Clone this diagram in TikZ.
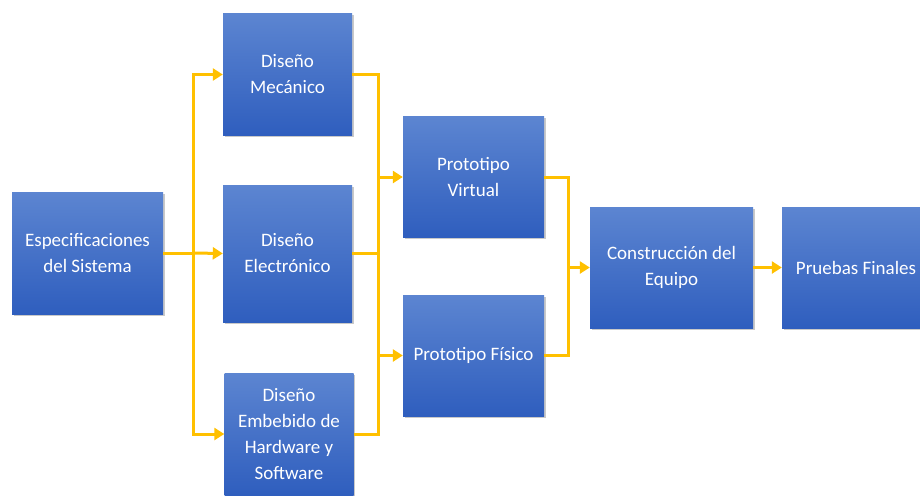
\documentclass[tikz,border=0pt]{standalone}
\usepackage{fontspec}
\setmainfont{Carlito}
\usetikzlibrary{arrows.meta,shadows}
\definecolor{boxtop}{HTML}{5C85D1}
\definecolor{boxbot}{HTML}{2F5EBE}
\definecolor{conncol}{HTML}{FFC000}
\tikzset{
  blockbox/.style={rectangle, inner sep=0pt, top color=boxtop, bottom color=boxbot,
    draw=none, text=white, align=center, font=\fontsize{19}{26}\selectfont,
    drop shadow={shadow xshift=1.5pt, shadow yshift=-1.5pt, opacity=0.35, fill=black!60}},
  conn/.style={draw=conncol, line width=3pt},
  connarrow/.style={conn, -{Triangle[length=10pt,width=12pt]}}
}
\begin{document}
\begin{tikzpicture}[x=1pt,y=-1pt]
\useasboundingbox (0,0) rectangle (920,495);
\fill[white] (0,0) rectangle (920,495);
\node[blockbox, minimum width=151pt, minimum height=122pt] (esp) at (87.5,253) {Especificaciones\\del Sistema};
\node[blockbox, minimum width=129pt, minimum height=122pt] (mec) at (287.5,74.5) {Diseño\\Mecánico};
\node[blockbox, minimum width=129pt, minimum height=137pt] (ele) at (287.5,253.5) {Diseño\\Electrónico};
\node[blockbox, minimum width=129pt, minimum height=122pt] (emb) at (289,434) {Diseño\\Embebido de\\Hardware y\\Software};
\node[blockbox, minimum width=141pt, minimum height=121pt] (vir) at (473.5,177) {Prototipo\\Virtual};
\node[blockbox, minimum width=141pt, minimum height=121pt] (fis) at (473.5,355.5) {Prototipo Físico};
\node[blockbox, minimum width=163pt, minimum height=121pt] (con) at (671.5,267.5) {Construcción del\\Equipo};
\node[blockbox, minimum width=148pt, minimum height=121pt] (pru) at (856,267.5) {Pruebas Finales};
\coordinate (j1) at (193,253);
\coordinate (j2a) at (378,177);
\coordinate (j2b) at (378,355.5);
\coordinate (j3) at (568,267.5);
\draw[conn] (esp.east) -- (j1);
\draw[connarrow] (j1) |- (mec.west);
\draw[connarrow] (j1) -- (ele.west);
\draw[connarrow] (j1) |- (emb.west);
\draw[conn] (mec.east) -| (j2b);
\draw[conn] (emb.east) -| (j2a);
\draw[conn] (ele.east) -- (ele.east -| j2a);
\draw[connarrow] (j2a) -- (vir.west);
\draw[connarrow] (j2b) -- (fis.west);
\draw[conn] (vir.east) -| (j3);
\draw[conn] (fis.east) -| (j3);
\draw[connarrow] (j3) -- (con.west);
\draw[connarrow] (con.east) -- (pru.west);
\end{tikzpicture}
\end{document}
